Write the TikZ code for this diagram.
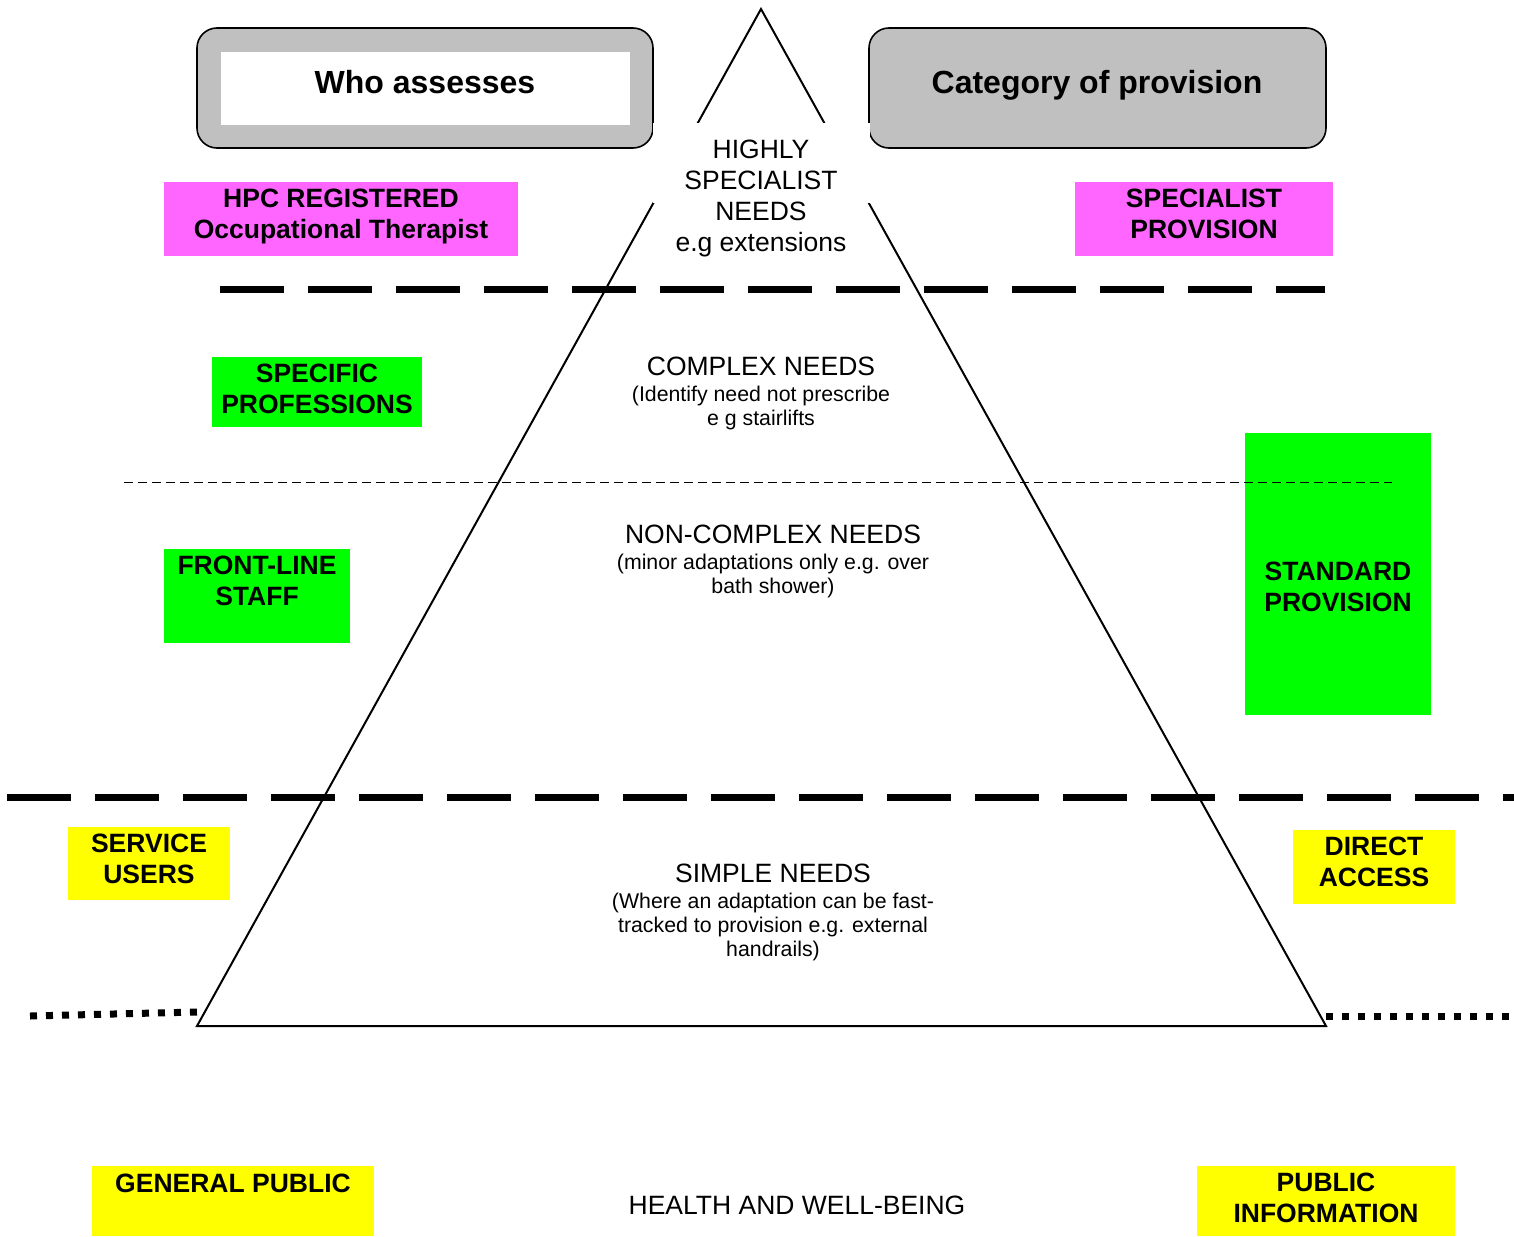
\documentclass[tikz,border=0pt]{standalone}
\usepackage{fontspec}
\setmainfont{Liberation Sans}
\usetikzlibrary{positioning}
\definecolor{boxgrey}{HTML}{C0C0C0}
\definecolor{pinkbox}{HTML}{FF66FF}
\definecolor{greenbox}{HTML}{00FF00}
\definecolor{yellowbox}{HTML}{FFFF00}

\begin{document}
\begin{tikzpicture}[
		x=0.5pt, y=-0.5pt,
		node distance=5pt,
		every node/.style={inner sep=0pt, align=center},
		mainlbl/.style={font=\fontsize{13.25}{15.5}\selectfont},
		boldlbl/.style={font=\fontsize{13.25}{15.5}\selectfont\bfseries},
		smalllbl/.style={font=\fontsize{10.65}{12}\selectfont},
		titlelbl/.style={font=\fontsize{16}{19}\selectfont\bfseries, anchor=base},
		headbox/.style={draw=black, line width=0.8pt, fill=boxgrey, rounded corners=10pt},
		thickdash/.style={line width=3.5pt, dash pattern=on 32pt off 12pt},
		thindash/.style={line width=0.5pt, dash pattern=on 4.5pt off 2.5pt},
		squaredot/.style={line width=3.5pt, dash pattern=on 3.5pt off 4.5pt}
	]
	\useasboundingbox (0,0) rectangle (1514,1236);

	% Header boxes
	\draw[headbox] (197,28) rectangle (653,148);
	\fill[white] (221,52) rectangle (630,125);
	\draw[headbox] (869,28) rectangle (1326,148);

	% Coloured boxes
	\fill[pinkbox] (164,182) rectangle (518,256);
	\fill[pinkbox] (1075,182) rectangle (1333,256);
	\fill[greenbox] (212,357) rectangle (422,427);
	\fill[greenbox] (164,549) rectangle (350,643);
	\fill[greenbox] (1245,433) rectangle (1431,715);
	\fill[yellowbox] (68,827) rectangle (230,900);
	\fill[yellowbox] (1293,830) rectangle (1455,904);
	\fill[yellowbox] (92,1166) rectangle (374,1236);
	\fill[yellowbox] (1197,1166) rectangle (1455,1236);

	% Pyramid
	\coordinate (apex) at (761,9);
	\coordinate (baseL) at (197,1026);
	\coordinate (baseR) at (1326,1026);
	\draw[line width=1pt] (apex) -- (baseL) -- (baseR) -- cycle;
	\fill[white] (653,123) rectangle (870,203);

	% Level lines
	\draw[thickdash] (220,289) -- (1325,289);
	\draw[thindash] (124,482) -- (1392,482);
	\draw[thickdash] (7,797) -- (1514,797);
	\draw[squaredot] (30,1016) -- (197,1012);
	\draw[squaredot] (1326,1016) -- (1514,1016);

	% Nodes
	\node[titlelbl] (who) at (425,94) {Who assesses};
	\node[titlelbl] (cat) at (1097,94) {Category of provision};

	\node[boldlbl] (hpc) at (341,216) {HPC REGISTERED\\Occupational Therapist};
	\node[boldlbl] (specprov) at (1204,213.5) {SPECIALIST\\PROVISION};
	\node[boldlbl] (specprof) at (317,388.5) {SPECIFIC\\PROFESSIONS};
	\node[boldlbl] (front) at (257,580.5) {FRONT-LINE\\STAFF};
	\node[boldlbl] (stdprov) at (1338,587) {STANDARD\\PROVISION};
	\node[boldlbl] (users) at (149,858.5) {SERVICE\\USERS};
	\node[boldlbl] (direct) at (1374,861.5) {DIRECT\\ACCESS};
	\node[boldlbl, anchor=base] (genpub) at (233,1192.5) {GENERAL PUBLIC};
	\node[boldlbl] (pubinfo) at (1326,1198) {PUBLIC\\INFORMATION};

	\node[mainlbl] (highly) at (761,198) {HIGHLY\\SPECIALIST\\NEEDS\\e.g extensions};
	\node[mainlbl, anchor=base] (complex) at (761,375) {COMPLEX NEEDS};
	\node[smalllbl, below=of complex] (complexsub) {(Identify need not prescribe\\e g stairlifts};
	\node[mainlbl, anchor=base] (noncomplex) at (773,543) {NON-COMPLEX NEEDS};
	\node[smalllbl, below=of noncomplex] (noncomplexsub) {(minor adaptations only e.g. over\\bath shower)};
	\node[mainlbl, anchor=base] (simple) at (773,882) {SIMPLE NEEDS};
	\node[smalllbl, below=of simple] (simplesub) {(Where an adaptation can be fast-\\tracked to provision e.g. external\\handrails)};
	\node[mainlbl, anchor=base] (health) at (797,1214.5) {HEALTH AND WELL-BEING};

\end{tikzpicture}
\end{document}
